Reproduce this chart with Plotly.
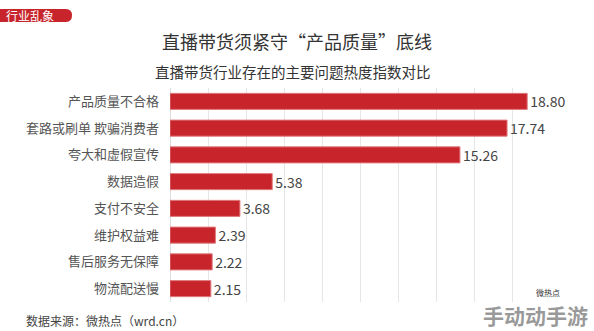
import plotly.graph_objects as go

categories = ["产品质量不合格", "套路或刷单 欺骗消费者", "夸大和虚假宣传", "数据造假",
              "支付不安全", "维护权益难", "售后服务无保障", "物流配送慢"]
values = [18.80, 17.74, 15.26, 5.38, 3.68, 2.39, 2.22, 2.15]
value_labels = ["18.80", "17.74", "15.26", "5.38", "3.68", "2.39", "2.22", "2.15"]

FONT = "Noto Sans CJK SC"
W, H = 594, 331

fig = go.Figure()
fig.add_trace(go.Bar(
    x=values, y=categories, orientation="h",
    marker=dict(color="#c7252b", line=dict(color="#e07a7d", width=1)),
    width=0.6,
    text=value_labels, textposition="outside", constraintext="none",
    textfont=dict(family=FONT, size=14, color="#444444"),
    cliponaxis=False,
    hoverinfo="skip",
))

fig.update_layout(
    width=W, height=H,
    margin=dict(l=0, r=0, t=0, b=0),
    paper_bgcolor="white", plot_bgcolor="white",
    showlegend=False,
    font=dict(family=FONT),
    bargap=0.4,
    xaxis=dict(
        domain=[170 / W, 550 / W],
        range=[0, 20], dtick=2, showticklabels=False,
        showgrid=True, gridcolor="#e6e6e6", gridwidth=1,
        zeroline=True, zerolinecolor="#dddddd", zerolinewidth=1,
        fixedrange=True,
    ),
    yaxis=dict(
        domain=[1 - 302 / H, 1 - 88 / H],
        categoryorder="array", categoryarray=categories,
        autorange="reversed",
        tickfont=dict(family=FONT, size=13, color="#555555"),
        ticks="", ticklabelstandoff=10,
        showgrid=False, zeroline=False, showline=False,
    ),
)

# red tag top-left
fig.add_shape(type="path", xref="paper", yref="paper",
              path=f"M 0 {1-9/H} L {66/W} {1-9/H} Q {72/W} {1-9/H} {72/W} {1-15.5/H} "
                   f"Q {72/W} {1-22/H} {66/W} {1-22/H} L 0 {1-22/H} Z",
              fillcolor="#c7252b", line=dict(width=0))
fig.add_annotation(x=4 / W, y=1 - 15.5 / H, xref="paper", yref="paper",
                   text="行业乱象", showarrow=False, xanchor="left", yanchor="middle",
                   font=dict(family=FONT, size=12, color="white"))

# titles
fig.add_annotation(x=0.5, y=1 - 41 / H, xref="paper", yref="paper",
                   text="直播带货须紧守“产品质量”底线", showarrow=False,
                   xanchor="center", yanchor="middle",
                   font=dict(family=FONT, size=18, color="#333333"))
fig.add_annotation(x=0.493, y=1 - 71 / H, xref="paper", yref="paper",
                   text="直播带货行业存在的主要问题热度指数对比", showarrow=False,
                   xanchor="center", yanchor="middle",
                   font=dict(family=FONT, size=14.5, color="#333333"))

# source
fig.add_annotation(x=24 / W, y=1 - 320 / H, xref="paper", yref="paper",
                   text="数据来源：微热点（wrd.cn）", showarrow=False,
                   xanchor="left", yanchor="middle",
                   font=dict(family=FONT, size=12, color="#444444"))

# logo / watermark
fig.add_annotation(x=548 / W, y=1 - 292 / H, xref="paper", yref="paper",
                   text="微热点", showarrow=False, xanchor="center", yanchor="middle",
                   font=dict(family=FONT, size=8, color="#333333"))
fig.add_annotation(x=535 / W, y=1 - 315 / H, xref="paper", yref="paper",
                   text="<b>手动动手游</b>", showarrow=False, xanchor="center", yanchor="middle",
                   font=dict(family=FONT, size=21, color="rgba(120,120,120,0.75)"))

fig.write_html("out.html")
